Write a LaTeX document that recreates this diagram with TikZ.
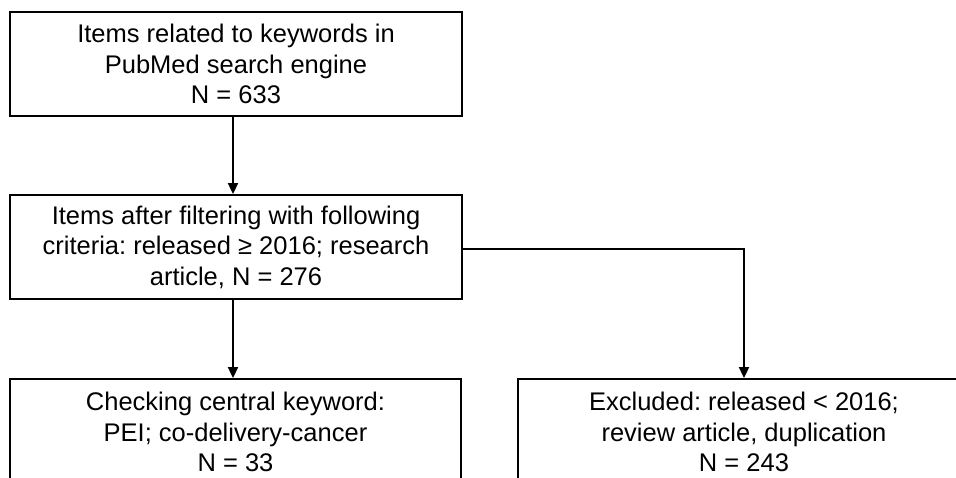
\documentclass[tikz,border=0pt]{standalone}
\usepackage{fontspec}
\setmainfont{Liberation Sans}
\usetikzlibrary{arrows.meta}
\frenchspacing
\begin{document}
\begin{tikzpicture}[x=1pt,y=-1pt,
  box/.style={draw=black,line width=1.8pt,minimum width=452pt,inner sep=0pt,align=center,
    font=\fontsize{25.5pt}{30.5pt}\selectfont},
  conn/.style={line width=1.8pt,-{Triangle[length=11pt,width=10pt]}}]
\useasboundingbox (0,0) rectangle (956,478);
\fill[white] (0,0) rectangle (956,478);
\node[box,minimum height=104pt] (b1) at (236,64) {Items related to keywords in\\PubMed search engine\\N = 633};
\node[box,minimum height=104pt] (b2) at (236,247) {Items after filtering with following\\criteria: released ≥ 2016; research\\article, N = 276};
\node[box,minimum height=106pt,minimum width=451pt] (b3) at (235.5,432) {Checking central keyword:\\PEI; co-delivery-cancer\\N = 33};
\node[box,minimum height=106pt] (b4) at (744,432) {Excluded: released < 2016;\\review article, duplication\\N = 243};
\draw[conn] ([xshift=-3pt]b1.south) -- ([xshift=-3pt]b1.south |- b2.north);
\draw[conn] ([xshift=-3pt]b2.south) -- ([xshift=-3pt]b2.south |- b3.north);
\draw[conn] ([yshift=-2pt]b2.east) -| (b4.north);
\end{tikzpicture}
\end{document}
